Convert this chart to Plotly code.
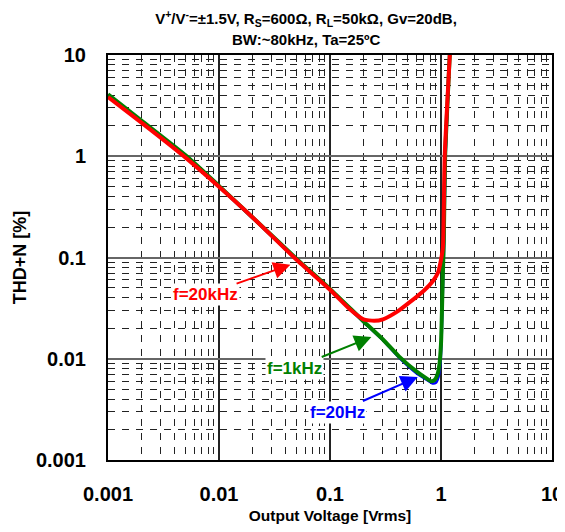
import plotly.graph_objects as go
import math

# ---- data ----
x_20k = [0.001, 0.002, 0.005, 0.01, 0.02, 0.05, 0.1, 0.15, 0.2, 0.25, 0.3, 0.4, 0.52, 0.7, 0.85, 0.94, 1.0, 1.04, 1.08, 1.2]
y_20k = [3.85, 2.15, 0.97, 0.5, 0.25, 0.095, 0.048, 0.031, 0.0245, 0.0237, 0.0245, 0.029, 0.036, 0.047, 0.059, 0.071, 0.095, 0.125, 1.0, 10]

x_1k = [0.001, 0.002, 0.005, 0.01, 0.02, 0.05, 0.1, 0.2, 0.3, 0.42, 0.6, 0.74, 0.82, 0.88, 0.93, 0.97, 1.0, 1.02, 1.04, 1.06, 1.09, 1.2]
y_1k = [4.1, 2.25, 1.02, 0.51, 0.25, 0.097, 0.049, 0.0235, 0.0155, 0.0105, 0.0075, 0.0064, 0.0060, 0.0062, 0.0070, 0.009, 0.014, 0.03, 0.07, 0.15, 1.0, 10]

x_20 = [0.001, 0.002, 0.005, 0.01, 0.02, 0.05, 0.1, 0.2, 0.3, 0.42, 0.6, 0.74, 0.84, 0.9, 0.95, 0.99, 1.01, 1.03, 1.05, 1.07, 1.1, 1.2]
y_20 = [4.0, 2.2, 1.0, 0.5, 0.245, 0.095, 0.048, 0.023, 0.0152, 0.0102, 0.0072, 0.0062, 0.0057, 0.0058, 0.0066, 0.009, 0.014, 0.03, 0.07, 0.15, 1.0, 10]

tick_vals = [0.001, 0.01, 0.1, 1, 10]
tick_text = ["0.001", "0.01", "0.1", "1", "10"]

labels = ["f=20kHz", "f=1kHz", "f=20Hz"]
label_colors = ["#FF0000", "#008000", "#0000FF"]
arrow_tips = [(0.044, 0.085), (0.236, 0.0164), (0.617, 0.0066)]

FONT = "Liberation Sans, Arial, sans-serif"

# page body has an 8px default margin, so the figure is kept inside the window
W, H = 557, 516
ML, MR, MT, MB = 100, 13, 47, 64

fig = go.Figure()
fig.add_trace(go.Scatter(x=x_20, y=y_20, mode="lines", name="f=20Hz",
                         line=dict(color="#0000FF", width=2.5, shape="spline", smoothing=0.5)))
fig.add_trace(go.Scatter(x=x_1k, y=y_1k, mode="lines", name="f=1kHz",
                         line=dict(color="#008000", width=4, shape="spline", smoothing=0.5)))
fig.add_trace(go.Scatter(x=x_20k, y=y_20k, mode="lines", name="f=20kHz",
                         line=dict(color="#FF0000", width=4, shape="spline", smoothing=0.5)))

offsets = [(-85, 30), (-77, 31), (-80, 35)]
for lab, col, (tx, ty), (ax, ay) in zip(labels, label_colors, arrow_tips, offsets):
    fig.add_annotation(x=math.log10(tx), y=math.log10(ty), xref="x", yref="y",
                       text="<b>%s</b>" % lab, showarrow=True, ax=ax, ay=ay,
                       arrowhead=2, arrowsize=1.7, arrowwidth=2, arrowcolor=col,
                       font=dict(family=FONT, size=17, color=col),
                       bgcolor="white", borderpad=1)

# second title line
fig.add_annotation(text="<b>BW:~80kHz, Ta=25ºC</b>", xref="paper", yref="paper",
                   x=(298 - ML) / (W - ML - MR), xanchor="center",
                   y=1 + (MT - 31) / (H - MT - MB), yanchor="middle",
                   showarrow=False, font=dict(family=FONT, size=15, color="black"))

axis_common = dict(
    type="log", tickmode="array", tickvals=tick_vals, ticktext=tick_text,
    showline=True, mirror=True, linecolor="black", linewidth=2,
    ticks="", showgrid=True, automargin=False,
    tickfont=dict(family=FONT, size=20, color="black", weight="bold"),
    minor=dict(dtick="D1", showgrid=True, gridcolor="#222222", gridwidth=1,
               griddash="7px,7px", ticks=""),
    zeroline=False,
)

fig.update_xaxes(**axis_common, range=[-3, 1], gridcolor="#222222", gridwidth=1.5,
                 ticklabelstandoff=15,
                 title=dict(text="<b>Output Voltage [Vrms]</b>", standoff=12,
                            font=dict(family=FONT, size=15.5, color="black")))
fig.update_yaxes(**axis_common, range=[-3, 1], gridcolor="#666666", gridwidth=2,
                 ticklabelstandoff=16,
                 title=dict(text="<b>THD+N [%]</b>", standoff=5,
                            font=dict(family=FONT, size=18, color="black")))

fig.update_layout(
    width=W, height=H,
    margin=dict(l=ML, r=MR, t=MT, b=MB),
    paper_bgcolor="white", plot_bgcolor="white",
    showlegend=False,
    title=dict(text="<b>V<sup>+</sup>/V<sup>-</sup>=±1.5V, R<sub>S</sub>=600Ω, R<sub>L</sub>=50kΩ, Gv=20dB,</b>",
               x=298 / W, xanchor="center", xref="container",
               y=1 - 11 / H, yanchor="middle", yref="container",
               font=dict(family=FONT, size=15, color="black")),
)

fig.write_html("out.html")
